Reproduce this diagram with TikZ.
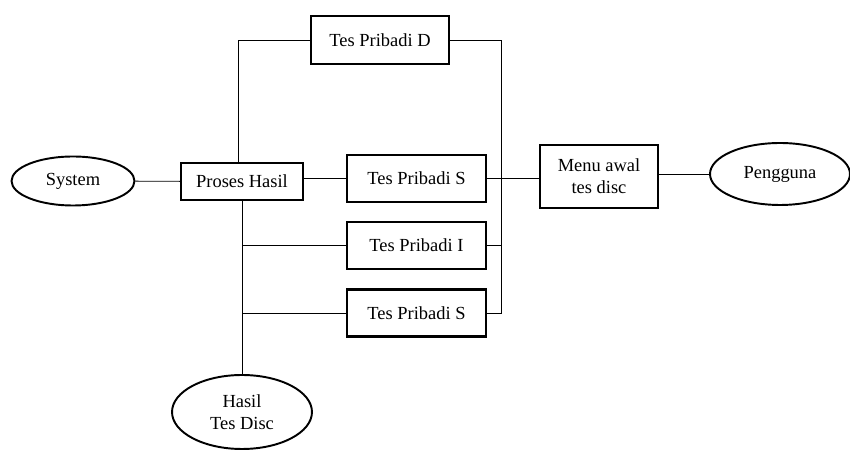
\documentclass[tikz,border=0pt]{standalone}
\usepackage{fontspec}
\setmainfont{Liberation Serif}
\usetikzlibrary{shapes.geometric}

\begin{document}
\begin{tikzpicture}[x=0.02cm,y=-0.02cm,
  every node/.style={font=\fontsize{10.5}{12.5}\selectfont},
  box/.style={draw,line width=1.2pt,rectangle,align=center,inner sep=2pt},
  oval/.style={draw,line width=1.1pt,ellipse,align=center,inner sep=1pt},
  link/.style={line width=0.5pt}]
  \useasboundingbox (0,0) rectangle (850,452);

  \node[oval, minimum width=2.46cm, minimum height=0.98cm] (system) at (73,181) {System};
  \node[box, minimum width=2.44cm, minimum height=0.74cm] (proses) at (242,181.5) {Proses Hasil};
  \node[box, minimum width=2.76cm, minimum height=0.96cm] (tesD) at (380,40) {Tes Pribadi D};
  \node[box, minimum width=2.78cm, minimum height=0.94cm] (tesS) at (416.5,178.5) {Tes Pribadi S};
  \node[box, minimum width=2.78cm, minimum height=0.94cm] (tesI) at (416.5,245.5) {Tes Pribadi I};
  \node[box, minimum width=2.78cm, minimum height=0.94cm] (tesS2) at (416.5,313) {Tes Pribadi S};
  \node[box, minimum width=2.36cm, minimum height=1.26cm] (menu) at (599,176.5) {Menu awal\\tes disc};
  \node[oval, minimum width=2.8cm, minimum height=1.24cm] (user) at (780,174) {Pengguna};
  \node[oval, minimum width=2.8cm, minimum height=1.48cm] (hasil) at (242,412) {Hasil\\Tes Disc};

  \coordinate (bus) at (501,0);

  \draw[link] (system) -- (proses);
  \draw[link] ([xshift=-0.08cm]proses.north) |- (tesD.west);
  \draw[link] (proses.east |- tesS) -- (tesS.west);
  \draw[link] (proses.south) -- (hasil.north);
  \draw[link] (proses.south |- tesI) -- (tesI.west);
  \draw[link] (proses.south |- tesS2) -- (tesS2.west);
  \draw[link] (tesD.east) -| (bus |- tesS2) -- (tesS2.east);
  \draw[link] (tesI.east) -- (bus |- tesI);
  \draw[link] (tesS.east) -- (menu.west |- tesS);
  \draw[link] (menu.east |- user) -- (user.west);
\end{tikzpicture}
\end{document}
